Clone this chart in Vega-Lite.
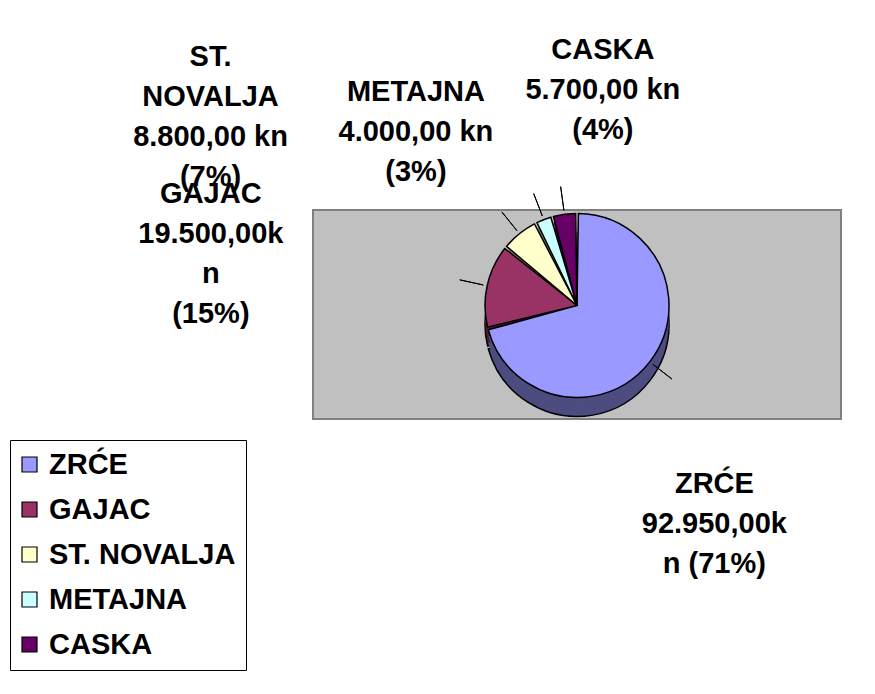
{
  "$schema": "https://vega.github.io/schema/vega-lite/v6.json",
  "width": 528,
  "height": 209,
  "autosize": {"type": "none"},
  "padding": {"left": 313, "top": 210, "right": 34, "bottom": 275},
  "background": "white",
  "config": {
    "view": {"stroke": null},
    "font": "Liberation Sans"
  },
  "data": {
    "values": [
      {"name": "ZRĆE", "value": 92950, "label": "ZRĆE\n92.950,00k\nn (71%)"},
      {"name": "GAJAC", "value": 19500, "label": "GAJAC\n19.500,00k\nn\n(15%)"},
      {"name": "ST. NOVALJA", "value": 8800, "label": "ST.\nNOVALJA\n8.800,00 kn\n(7%)"},
      {"name": "METAJNA", "value": 4000, "label": "METAJNA\n4.000,00 kn\n(3%)"},
      {"name": "CASKA", "value": 5700, "label": "CASKA\n5.700,00 kn\n(4%)"}
    ]
  },
  "transform": [
    {"window": [{"op": "row_number", "as": "idx"}]},
    {"stack": "value", "groupby": [], "sort": [{"field": "idx", "order": "ascending"}], "as": ["s0", "s1"]},
    {"calculate": "(datum.s0 + datum.s1) / 2", "as": "mid"},
    {"calculate": "datum.mid + 1", "as": "mid2"},
    {"calculate": "datum.name + ' (side)'", "as": "side"}
  ],
  "layer": [
    {
      "mark": {"type": "rect", "fill": "#C0C0C0", "stroke": "#808080", "strokeWidth": 2},
      "encoding": {}
    },
    {
      "mark": {"type": "arc", "radius": 92, "yOffset": 10, "padAngle": 0.03, "stroke": "black", "strokeWidth": 1.5},
      "encoding": {
        "theta": {"field": "s0", "type": "quantitative", "stack": null, "scale": {"domain": [0, 130950]}},
        "theta2": {"field": "s1"},
        "color": {"field": "side", "type": "nominal"}
      }
    },
    {
      "mark": {"type": "arc", "radius": 92, "yOffset": 4, "padAngle": 0.03},
      "encoding": {
        "theta": {"field": "s0", "type": "quantitative", "stack": null, "scale": {"domain": [0, 130950]}},
        "theta2": {"field": "s1"},
        "color": {"field": "side", "type": "nominal"}
      }
    },
    {
      "mark": {"type": "arc", "radius": 92, "yOffset": -3, "padAngle": 0.03},
      "encoding": {
        "theta": {"field": "s0", "type": "quantitative", "stack": null, "scale": {"domain": [0, 130950]}},
        "theta2": {"field": "s1"},
        "color": {"field": "side", "type": "nominal"}
      }
    },
    {
      "mark": {"type": "arc", "radius": 92, "yOffset": -9, "padAngle": 0.03, "stroke": "black", "strokeWidth": 1.5},
      "encoding": {
        "theta": {"field": "s0", "type": "quantitative", "stack": null, "scale": {"domain": [0, 130950]}},
        "theta2": {"field": "s1"},
        "color": {
          "field": "name", "type": "nominal",
          "scale": {
            "domain": ["ZRĆE", "GAJAC", "ST. NOVALJA", "METAJNA", "CASKA", "ZRĆE (side)", "GAJAC (side)", "ST. NOVALJA (side)", "METAJNA (side)", "CASKA (side)"],
            "range": ["#9999FF", "#993366", "#FFFFCC", "#CCFFFF", "#660066", "#4C4C80", "#4C1A33", "#808066", "#668080", "#330033"]
          },
          "legend": {
            "values": ["ZRĆE", "GAJAC", "ST. NOVALJA", "METAJNA", "CASKA"],
            "orient": "none", "legendX": -303, "legendY": 230, "title": null,
            "fillColor": "white", "strokeColor": "black",
            "padding": 10, "rowPadding": 15,
            "symbolType": "square", "symbolSize": 225, "symbolStrokeColor": "black", "symbolStrokeWidth": 1.2,
            "symbolOffset": -5,
            "labelFont": "Liberation Sans", "labelFontWeight": "bold", "labelFontSize": 29, "labelColor": "black",
            "labelOffset": 5, "labelLimit": 400
          }
        }
      }
    },
    {
      "mark": {"type": "arc", "yOffset": -9, "stroke": "black", "strokeWidth": 1, "fill": "black"},
      "encoding": {
        "theta": {"field": "mid", "type": "quantitative", "stack": null, "scale": {"domain": [0, 130950]}},
        "theta2": {"field": "mid2"},
        "radius": {"value": 120},
        "radius2": {"value": 96}
      }
    },
    {
      "transform": [{"filter": "datum.name === 'ZRĆE'"}],
      "mark": {"type": "text", "fontWeight": "bold", "fontSize": 29, "lineBreak": "\n", "lineHeight": 40, "align": "center", "baseline": "middle", "radius": 213, "dx": -31, "dy": 39},
      "encoding": {"theta": {"field": "mid", "type": "quantitative", "stack": null, "scale": {"domain": [0, 130950]}}, "text": {"field": "label"}}
    },
    {
      "transform": [{"filter": "datum.name === 'GAJAC'"}],
      "mark": {"type": "text", "fontWeight": "bold", "fontSize": 29, "lineBreak": "\n", "lineHeight": 40, "align": "center", "baseline": "middle", "radius": 384, "dx": 9, "dy": -38},
      "encoding": {"theta": {"field": "mid", "type": "quantitative", "stack": null, "scale": {"domain": [0, 130950]}}, "text": {"field": "label"}}
    },
    {
      "transform": [{"filter": "datum.name === 'ST. NOVALJA'"}],
      "mark": {"type": "text", "fontWeight": "bold", "fontSize": 29, "lineBreak": "\n", "lineHeight": 40, "align": "center", "baseline": "middle", "radius": 432, "dx": -96, "dy": 79},
      "encoding": {"theta": {"field": "mid", "type": "quantitative", "stack": null, "scale": {"domain": [0, 130950]}}, "text": {"field": "label"}}
    },
    {
      "transform": [{"filter": "datum.name === 'METAJNA'"}],
      "mark": {"type": "text", "fontWeight": "bold", "fontSize": 29, "lineBreak": "\n", "lineHeight": 40, "align": "center", "baseline": "middle", "radius": 266, "dx": -65, "dy": 26},
      "encoding": {"theta": {"field": "mid", "type": "quantitative", "stack": null, "scale": {"domain": [0, 130950]}}, "text": {"field": "label"}}
    },
    {
      "transform": [{"filter": "datum.name === 'CASKA'"}],
      "mark": {"type": "text", "fontWeight": "bold", "fontSize": 29, "lineBreak": "\n", "lineHeight": 40, "align": "center", "baseline": "middle", "radius": 258, "dx": 61, "dy": -9},
      "encoding": {"theta": {"field": "mid", "type": "quantitative", "stack": null, "scale": {"domain": [0, 130950]}}, "text": {"field": "label"}}
    }
  ]
}
